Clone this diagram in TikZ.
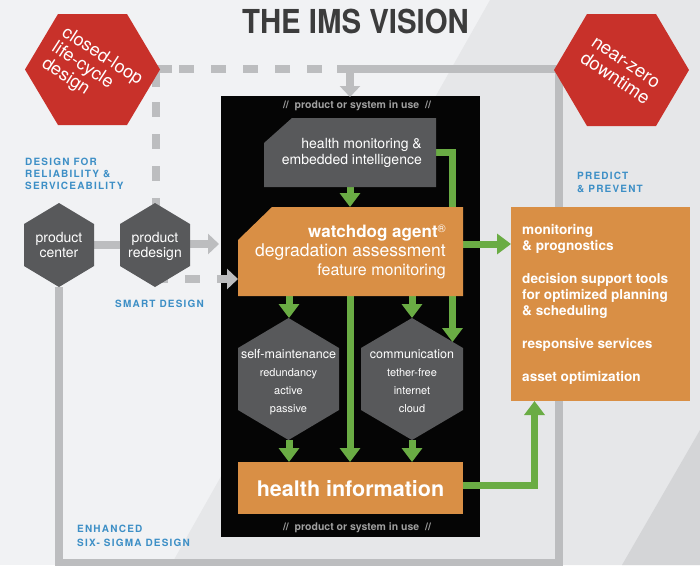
\documentclass[tikz,border=0pt]{standalone}
\usepackage{fontspec}
\setmainfont{TeX Gyre Heros}
\newfontfamily\lblfont{TeX Gyre Heros}[LetterSpace=12]
\usetikzlibrary{arrows.meta}
\definecolor{bgA}{RGB}{241,242,244}
\definecolor{bgB}{RGB}{230,231,233}
\definecolor{bgC}{RGB}{212,213,215}
\definecolor{imsred}{RGB}{200,49,42}
\definecolor{hexgrey}{RGB}{88,89,91}
\definecolor{imsorange}{RGB}{217,143,69}
\definecolor{imsgreen}{RGB}{106,172,68}
\definecolor{loopgrey}{RGB}{188,189,191}
\definecolor{imsblue}{RGB}{61,143,198}
\definecolor{titlegrey}{RGB}{60,60,60}
\definecolor{capgrey}{RGB}{160,160,160}
\definecolor{panel}{RGB}{5,5,5}
\begin{document}
\begin{tikzpicture}[x=1pt,y=-1pt,
  loopline/.style={draw=loopgrey,line width=8pt},
  looparrow/.style={loopline,-{Triangle[width=20pt,length=11pt]}},
  dashline/.style={loopline,dash pattern=on 15pt off 17pt},
  gline/.style={draw=imsgreen,line width=7pt},
  garrow/.style={gline,-{Triangle[width=20pt,length=14pt]}},
  wt/.style={text=white,inner sep=0pt},
  lbl/.style={text=imsblue,inner sep=0pt,anchor=base west,font=\lblfont\bfseries\fontsize{10}{12}\selectfont},
  captxt/.style={text=capgrey,inner sep=0pt,font=\bfseries\fontsize{10.5}{12}\selectfont},
  hexsub/.style={wt,anchor=base,font=\fontsize{11}{12}\selectfont},
  hextitle/.style={wt,anchor=base,font=\fontsize{12.5}{14}\selectfont},
  prod/.style={wt,anchor=base,font=\fontsize{14}{15}\selectfont},
  rbox/.style={wt,anchor=base west,font=\bfseries\fontsize{13.6}{16}\selectfont},
]
\useasboundingbox (0,0) rectangle (700,565);
% background
\fill[bgA] (0,0) rectangle (700,565);
\fill[bgB] (490,0) -- (700,0) -- (700,565) -- (171,565) -- cycle;
\fill[bgC] (700,430) -- (700,565) -- (622,565) -- cycle;

% title
\node[text=titlegrey,inner sep=0pt,anchor=base] (title) at (355.5,33)
  {\scalebox{0.89}[1]{\bfseries\fontsize{33}{33}\selectfont THE IMS VISION}};

% blue labels
\node[lbl] (l1a) at (25,165) {DESIGN FOR};
\node[lbl] (l1b) at (25,177) {RELIABILITY \&};
\node[lbl] (l1c) at (25,189) {SERVICEABILITY};
\node[lbl] (l2) at (115,307) {SMART DESIGN};
\node[lbl] (l3a) at (577,179) {PREDICT};
\node[lbl] (l3b) at (577,192) {\& PREVENT};
\node[lbl] (l4a) at (77,532) {ENHANCED};
\node[lbl] (l4b) at (77,546) {SIX- SIGMA DESIGN};

% black panel
\fill[panel] (221,96) rectangle (480,537);
\node[captxt] (captop) at (357,105.5) {//\ \ product or system in use\ \ //};
\node[captxt] (capbot) at (357,527.5) {//\ \ product or system in use\ \ //};

% key coordinates
\coordinate (pcC) at (59,245);
\coordinate (pcS) at (59,287);
\coordinate (prC) at (155,245);
\coordinate (prE) at (190,244);
\coordinate (panelL) at (219,244);
\coordinate (clE) at (160,69);
\coordinate (corner) at (155.5,69);
\coordinate (loopTop) at (350,69);
\coordinate (panelT) at (350,97);
\coordinate (wdL) at (238,279);
\coordinate (hmS) at (350,187);
\coordinate (wdN) at (350,207);
\coordinate (hmE) at (436,152);
\coordinate (cmNE) at (452.5,342);
\coordinate (wdE) at (463,244);
\coordinate (rbW) at (511,244);
\coordinate (smN) at (289,318);
\coordinate (cmN) at (412,318);
\coordinate (smS) at (289,440);
\coordinate (cmS) at (412,440);
\coordinate (hiE) at (463,485);
\coordinate (rbS) at (534.5,401);

% grey loop
\draw[loopline] (pcS) -- (59,563) -- (559,563) -- (559,69) -- (337,69);
\draw[looparrow] (loopTop) -- (panelT);
\draw[loopline] (pcC) -- (prC);
\draw[looparrow] (prE) -- (panelL);
% dashed grey
\draw[dashline] (322,69) -- (172,69);
\draw[loopline] (172,69) -- (corner) -- (155.5,87);
\draw[dashline] (155.5,102) -- (155.5,245);
\draw[dashline,-{Triangle[width=20pt,length=11pt]}] (153,279) -- (wdL);

% green connectors
\draw[garrow] (hmS) -- (wdN);
\draw[garrow] (hmE) -- (452.5,152) -- (cmNE);
\draw[garrow] (wdE) -- (rbW);
\draw[garrow] (289,296) -- (smN);
\draw[garrow] (412,296) -- (cmN);
\draw[garrow] (350,296) -- (350,462);
\draw[garrow] (smS) -- (289,462);
\draw[garrow] (cmS) -- (412,462);
\draw[garrow] (hiE) -- (534.5,485) -- (rbS);

% red hexagons
\fill[imsred] (25,69.5) -- (58,14) -- (127,14) -- (160,69.5) -- (127,125) -- (58,125) -- cycle;
\fill[imsred] (554,70) -- (587,14) -- (656,14) -- (689,70) -- (656,126) -- (587,126) -- cycle;
\node[wt,rotate=-33,align=left,font=\fontsize{18}{18.5}\selectfont] (closedloop) at (92,72)
  {closed-loop\\life-cycle\\design};
\node[wt,rotate=-34,align=center,font=\fontsize{18.5}{19.5}\selectfont] (nearzero) at (620,71)
  {near-zero\\downtime};

% product hexagons
\fill[hexgrey] (59,203) -- (94,224) -- (94,266) -- (59,287) -- (24,266) -- (24,224) -- cycle;
\fill[hexgrey] (155,203) -- (190,224) -- (190,266) -- (155,287) -- (120,266) -- (120,224) -- cycle;
\node[prod] (pc1) at (59,242) {product};
\node[prod] (pc2) at (59,257) {center};
\node[prod] (pr1) at (155,242) {product};
\node[prod] (pr2) at (155,257) {redesign};

% health monitoring box
\fill[hexgrey] (292,118) -- (436,118) -- (436,187) -- (264,187) -- (264,143) -- cycle;
\node[wt,anchor=base east,font=\fontsize{14}{15}\selectfont] (hm1) at (422,148) {health monitoring \&};
\node[wt,anchor=base east,font=\fontsize{14}{15}\selectfont] (hm2) at (422,164) {embedded intelligence};

% watchdog box
\fill[imsorange] (272,207) -- (463,207) -- (463,296) -- (238,296) -- (238,240) -- cycle;
\node[wt,anchor=base east,font=\bfseries\fontsize{17}{18}\selectfont] (wd1) at (446,237)
  {watchdog agent\raisebox{5pt}{\fontsize{11}{11}\selectfont\mdseries ®}};
\node[wt,anchor=base east,font=\fontsize{17.5}{18}\selectfont] (wd2) at (446,256) {degradation assessment};
\node[wt,anchor=base east,font=\fontsize{16}{17}\selectfont] (wd3) at (446,275) {feature monitoring};

% inner hexagons
\fill[hexgrey] (288.5,318) -- (339,348) -- (339,410) -- (288.5,440) -- (238,410) -- (238,348) -- cycle;
\fill[hexgrey] (412,318) -- (463,348) -- (463,410) -- (412,440) -- (361,410) -- (361,348) -- cycle;
\node[hextitle] (sm1) at (288.5,358) {self-maintenance};
\node[hexsub] (sm2) at (288.5,376) {redundancy};
\node[hexsub] (sm3) at (288.5,394) {active};
\node[hexsub] (sm4) at (288.5,412) {passive};
\node[hextitle] (cm1) at (412,358) {communication};
\node[hexsub] (cm2) at (412,376) {tether-free};
\node[hexsub] (cm3) at (412,394) {internet};
\node[hexsub] (cm4) at (412,412) {cloud};

% health information
\fill[imsorange] (238,462) rectangle (463,514);
\node[wt,anchor=base,font=\bfseries\fontsize{21.5}{22}\selectfont] (hi) at (350.5,496) {health information};

% right box
\fill[imsorange] (511,207) rectangle (690,401);
\node[rbox] (r1) at (522,234) {monitoring};
\node[rbox] (r2) at (522,250) {\& prognostics};
\node[rbox] (r3) at (522,283) {decision support tools};
\node[rbox] (r4) at (522,299) {for optimized planning};
\node[rbox] (r5) at (522,315) {\& scheduling};
\node[rbox] (r6) at (522,348) {responsive services};
\node[rbox] (r7) at (522,381) {asset optimization};
\end{tikzpicture}
\end{document}
